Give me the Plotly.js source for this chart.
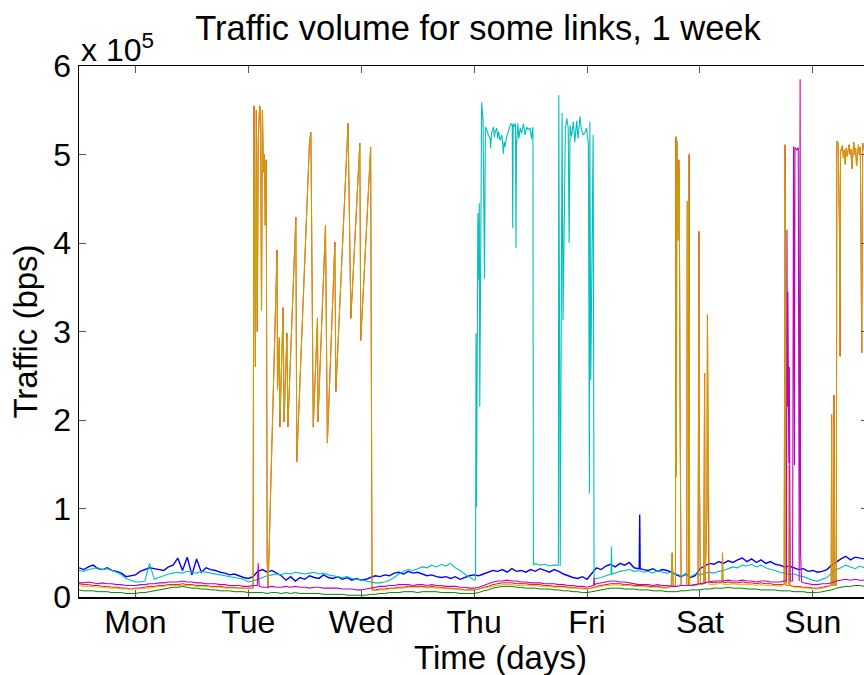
<!DOCTYPE html>
<html>
<head>
<meta charset="utf-8">
<script src="https://cdn.plot.ly/plotly-3.0.1.min.js"></script>
<style>html,body{margin:0;padding:0;background:#fff;}#chart{width:864px;height:675px;}</style>
</head>
<body>
<div id="chart"></div>
<script>
// ---- sample times (hours since Monday 00:00), one sample per hour ----
const HOURS = [...Array(168).keys()];
const dayTickHours = [12, 36, 60, 84, 108, 132, 156];
const dayTickLabels = ['Mon', 'Tue', 'Wed', 'Thu', 'Fri', 'Sat', 'Sun'];
const yTickValues = [0, 100000, 200000, 300000, 400000, 500000, 600000];
const yTickLabels = ['0', '1', '2', '3', '4', '5', '6'];

// ---- hourly baseline traffic per link (kbps); null = hidden under a burst ----
const blueKbps = [
  33,31,34,36,32,31,33,30,29,27,23,24,25,29,31,33,32,31,30,34,36,44,30,45,
  25,43,28,33,31,30,28,27,25,26,24,22,21,23,29,31,28,30,27,24,19,23,18,22,
  20,24,22,21,25,22,21,23,20,22,19,21,19,20,22,24,23,25,24,27,28,26,29,27,
  28,26,24,25,23,22,23,21,23,20,22,24,25,24,26,28,30,29,31,28,32,29,30,28,
  31,29,32,30,28,31,29,26,24,22,21,23,20,27,33,31,35,37,34,38,36,39,33,32,
  31,30,32,29,31,30,28,25,23,26,22,24,32,35,38,37,40,38,41,39,42,44,40,43,
  39,42,38,40,37,36,34,35,33,31,32,29,30,28,29,31,36,40,43,46,42,45,44,43];
const cyanKbps = [
  30,29,31,32,33,31,32,30,28,25,21,19,17,17,18,38,20,22,24,26,27,28,27,29,
  28,27,29,28,27,26,25,24,23,22,21,20,17,18,20,22,24,25,26,25,27,26,28,27,
  26,27,28,26,27,25,24,23,22,23,21,20,19,18,17,16,16,17,19,22,26,29,31,30,
  32,34,33,36,34,37,35,38,33,30,26,22,19,null,null,null,null,null,null,null,null,null,null,null,
  null,38,36,37,35,36,null,null,null,null,null,null,null,null,21,22,24,26,27,29,30,31,29,30,
  28,29,27,30,28,27,28,26,24,25,23,26,25,27,28,27,29,30,32,34,33,36,35,37,
  34,36,33,31,30,28,27,25,26,24,23,21,19,18,20,22,27,31,33,36,34,32,35,33];
const greenKbps = [
  8,7,7,7,6,6,6,5,5,5,4,4,4,5,5,6,7,8,9,10,11,11,12,11,
  10,10,9,9,8,8,7,7,7,6,6,6,5,5,5,5,4,5,5,4,5,4,5,4,
  4,4,4,4,3,3,3,3,3,2,2,2,2,2,3,3,4,4,5,5,5,6,6,6,
  5,6,6,6,6,5,5,5,5,4,4,4,4,5,7,8,10,11,12,12,12,11,11,10,
  10,10,9,9,9,8,8,7,7,6,6,5,5,6,7,8,9,10,10,10,9,9,9,8,
  8,8,7,7,7,6,6,6,7,7,8,8,8,9,9,10,10,10,11,10,10,10,9,9,
  9,8,8,8,8,7,7,7,6,6,6,5,5,5,6,7,8,10,11,12,12,13,13,12];
const redKbps = [
  15,14,14,13,13,12,12,11,11,10,10,9,10,10,11,12,12,13,13,14,14,14,15,14,
  14,13,13,13,12,12,12,11,11,11,10,10,10,null,null,null,null,null,null,null,null,null,null,null,
  null,null,null,null,null,null,null,null,null,null,null,null,null,null,null,8,9,9,10,10,11,11,12,12,
  12,12,11,12,11,11,10,10,9,9,8,8,8,9,11,12,14,15,16,16,16,15,15,15,
  14,14,14,13,13,12,12,12,11,11,10,10,9,10,12,13,14,15,15,15,14,14,13,13,
  13,12,12,12,11,11,null,null,null,null,null,null,null,null,17,16,17,16,17,16,16,17,16,16,
  15,16,15,15,14,14,null,13,12,12,11,11,10,10,11,12,null,null,null,null,null,null,null,null];
const oliveKbps = [
  13,12,12,12,11,11,10,10,10,9,9,9,9,9,10,10,11,12,12,13,13,13,13,13,
  13,12,12,12,11,11,11,10,10,10,10,10,9,null,null,null,null,null,null,null,null,null,null,null,
  null,null,null,null,null,null,null,null,null,null,null,null,null,null,null,7,8,8,9,9,10,10,11,11,
  11,11,10,11,10,10,9,9,9,8,8,8,8,9,10,11,12,13,14,14,14,13,13,13,
  13,13,12,12,12,11,11,11,10,10,10,9,9,10,11,12,13,13,14,13,13,13,12,12,
  12,11,11,11,10,10,null,null,null,null,null,null,null,null,14,14,15,14,14,15,14,14,14,14,
  13,14,13,13,13,12,null,12,11,11,10,10,9,9,10,11,null,null,null,null,null,null,null,null];
const magentaKbps = [
  16,16,17,16,15,16,15,15,14,14,13,13,13,14,14,15,15,16,16,17,17,17,18,17,
  17,16,16,15,15,15,14,14,13,13,13,12,12,13,12,11,11,12,11,11,12,11,12,11,
  11,10,11,11,10,10,10,10,9,9,9,8,8,9,10,11,12,12,13,13,14,14,14,13,
  14,14,13,14,13,13,12,12,12,11,11,10,10,11,13,15,17,18,18,19,18,18,17,17,
  16,16,16,15,15,15,14,14,13,13,12,12,11,13,15,16,17,18,18,17,17,16,15,14,
  14,14,13,14,13,13,12,12,13,13,13,14,15,16,17,18,18,18,19,18,18,19,18,18,
  17,18,18,17,17,17,18,null,null,null,16,15,14,14,15,15,16,18,19,20,19,20,19,19];

// ---- bursts read at finer time resolution (hours, kbps) ----
// red and olive links carry the same bursts
const burstTueH = [37.0,37.2,37.5,37.7,37.9,38.1,38.4,38.6,38.8,39.0,39.2,39.4,39.6,39.8,40.0,40.2,42.1,42.2,42.6,42.7,43.4,43.6,44.2,44.4,46.1,46.3,49.0,49.3,49.6,49.8,50.7,50.8,52.4,52.8,54.4,54.6,57.2,57.8,59.7,59.9,62.0,62.3];
const burstTueV = [10,555,260,550,300,516,555,552,324,550,480,500,420,494,42,10,392,234,293,192,327,198,298,192,429,153,514,525,313,192,315,198,420,174,401,232,535,315,513,290,508,8];
const burstSatH = [125.9,126.1,126.3,126.8,126.9,127.0,127.1,127.3,127.5,127.6,127.8,128.0,129.2,129.3,129.5,129.6,129.7,129.8,131.6,131.7,131.8,131.9,132.0,132.1,132.8,132.9,133.0,133.1,133.5,133.6,133.8,133.9];
const burstSatV = [12,50,12,12,520,136,515,403,494,480,192,13,13,447,447,13,500,13,14,413,413,136,84,14,15,253,253,15,100,319,143,16];
const blipSatH = [136.7,136.8,136.9];
const blipSatV = [16,50,16];
const burstSun1H = [149.9,150.1,150.2,150.3,150.9,151.0,151.1];
const burstSun1V = [14,511,400,13,13,149,13];
const burstSun2H = [159.9,160.0,160.1,160.4,160.5,160.6,160.7,161.0,161.1,161.4,161.7,161.8,161.9,162.1,162.3,162.5,162.7,162.9,163.1,163.3,163.5,163.7,163.9,164.1,164.3,164.5,164.7,164.9,165.1,165.3,165.5,165.7,165.9,166.1,166.4,166.6,166.9];
const burstSun2V = [13,206,13,13,228,117,13,13,515,513,400,272,503,508,510,496,505,489,507,498,503,511,500,506,484,503,514,500,507,487,506,511,500,508,276,513,505];
// cyan link bursts
const cyanThuH = [84.3,84.4,84.5,84.8,85.0,85.1,85.2,85.4,85.6,85.9,86.2,86.4,86.7,87.0,87.4,87.5,87.7,88.1,88.3,88.5,88.8,89.0,89.2,89.5,89.9,90.1,90.2,90.4,90.6,90.9,91.3,91.6,91.8,92.1,92.2,92.3,92.6,92.8,92.9,93.0,93.3,93.5,93.8,94.1,94.5,94.8,95.2,95.5,95.9,96.2,96.5,96.6];
const cyanThuV = [20,298,102,434,358,445,215,440,559,539,360,531,528,522,518,507,524,531,520,526,530,518,526,516,522,509,501,514,509,520,528,531,535,533,417,535,531,535,394,509,535,518,530,524,535,522,531,528,530,518,531,36];
const cyanFriH = [101.9,102.0,102.3,102.7,102.9,103.1,103.4,103.7,104.0,104.2,104.4,104.7,105.1,105.4,105.8,106.1,106.5,106.8,107.2,107.6,107.9,108.3,108.5,108.6,108.8,109.3,109.5];
const cyanFriV = [36,567,35,547,313,381,530,541,530,400,533,520,537,514,538,518,543,528,522,525,530,511,117,537,245,522,20];
const cyanBlipH = [113.1,113.2,113.3];
const cyanBlipV = [26,57,26];
// blue and magenta bursts
const blueBlipH = [119.1,119.2,119.3];
const blueBlipV = [33,93,32];
const magentaTueH = [37.9,38.1,38.3];
const magentaTueV = [13,38,12];
const magentaFriH = [109.4,109.5,109.6];
const magentaFriV = [13,22,14];
const magentaSunH = [150.4,150.5,150.6,150.7,150.9,151.0,151.2,151.7,151.9,152.1,152.2,152.6,152.9,153.1,153.3,153.4,153.6];
const magentaSunV = [18,415,215,345,151,260,18,18,509,149,508,505,508,18,585,50,17];

// ---- checks ----
[blueKbps, cyanKbps, greenKbps, redKbps, oliveKbps, magentaKbps].forEach((a, i) => {
  if (a.length !== HOURS.length) throw new Error('baseline ' + i + ' has ' + a.length + ' values');
});
[[burstTueH,burstTueV],[burstSatH,burstSatV],[burstSun1H,burstSun1V],[burstSun2H,burstSun2V],
 [cyanThuH,cyanThuV],[cyanFriH,cyanFriV],[magentaSunH,magentaSunV]].forEach((p, i) => {
  if (p[0].length !== p[1].length) throw new Error('burst ' + i + ' length mismatch');
});

// merge hourly baseline with bursts (baseline samples inside a burst window are dropped)
function series(base, bursts) {
  const pts = [];
  HOURS.forEach((h, i) => {
    const v = base[i];
    if (v === null) return;
    if (bursts.some(b => h >= b[0][0] && h <= b[0][b[0].length - 1])) return;
    pts.push([h, v]);
  });
  bursts.forEach(b => b[0].forEach((h, i) => pts.push([h, b[1][i]])));
  pts.sort((a, b) => a[0] - b[0]);
  return { x: pts.map(p => p[0]), y: pts.map(p => p[1] * 1000) };
}

const sharedBursts = [[burstTueH, burstTueV], [burstSatH, burstSatV], [blipSatH, blipSatV],
                      [burstSun1H, burstSun1V], [burstSun2H, burstSun2V]];
const blue = series(blueKbps, [[blueBlipH, blueBlipV]]);
const cyan = series(cyanKbps, [[cyanThuH, cyanThuV], [cyanFriH, cyanFriV], [cyanBlipH, cyanBlipV]]);
const green = series(greenKbps, []);
const red = series(redKbps, sharedBursts);
const olive = series(oliveKbps, sharedBursts);
const magenta = series(magentaKbps, [[magentaTueH, magentaTueV], [magentaFriH, magentaFriV], [magentaSunH, magentaSunV]]);

function line(s, color, width, extra) {
  return Object.assign({ x: s.x, y: s.y, type: 'scatter', mode: 'lines',
    line: { color: color, width: width }, hoverinfo: 'x+y', showlegend: false }, extra || {});
}

const FONT = 'Liberation Sans, Arial, Helvetica, sans-serif';
const data = [
  line(blue, '#0000ff', 1.4),
  line(cyan, '#00bfbf', 1.1),
  line(green, '#008000', 1, { yaxis: 'y2' }),
  line(red, '#ff0000', 1),
  line(olive, '#bfbf00', 1.1, { opacity: 0.8 }),
  line(magenta, '#bf00bf', 1.1)
];

const layout = {
  width: 864, height: 675,
  margin: { l: 79, r: 0, t: 66, b: 78, pad: 0 },
  paper_bgcolor: '#ffffff', plot_bgcolor: '#ffffff',
  font: { family: FONT, size: 32, color: '#000000' },
  title: { text: 'Traffic volume for some links, 1 week', font: { family: FONT, size: 34.5, color: '#000' },
           x: 478 / 864, xref: 'container', xanchor: 'center', y: 1 - 28 / 675, yref: 'container', yanchor: 'middle' },
  xaxis: {
    range: [0, 166.88], autorange: false, showgrid: false, zeroline: false,
    tickmode: 'array', tickvals: dayTickHours, ticktext: dayTickLabels,
    ticks: 'inside', ticklen: 7, tickwidth: 1, tickcolor: '#555',
    showline: true, linecolor: '#000', linewidth: 1.5, mirror: 'ticks',
    tickfont: { family: FONT, size: 32, color: '#000' }, ticklabelstandoff: -4
  },
  yaxis: {
    range: [0, 600000], autorange: false, showgrid: false, zeroline: false,
    tickmode: 'array', tickvals: yTickValues, ticktext: yTickLabels,
    ticks: 'inside', ticklen: 7, tickwidth: 1, tickcolor: '#555',
    showline: true, linecolor: '#000', linewidth: 1.5, mirror: false,
    tickfont: { family: FONT, size: 32, color: '#000' },
    title: { text: 'Traffic (bps)', font: { family: FONT, size: 33, color: '#000' }, standoff: 6 }
  },
  yaxis2: {
    overlaying: 'y', side: 'right', range: [0, 600000], autorange: false,
    showgrid: false, zeroline: false, showline: false, showticklabels: false,
    tickmode: 'array', tickvals: yTickValues,
    ticks: 'inside', ticklen: 3, tickwidth: 1, tickcolor: '#555'
  },
  annotations: [
    { // x-axis title, placed where the reference centres it
      text: 'Time (days)', xref: 'paper', yref: 'paper',
      x: (500 - 79) / 785, y: -(657 - 597) / 531, xanchor: 'center', yanchor: 'middle',
      showarrow: false, font: { family: FONT, size: 33, color: '#000' }
    },
    { // exponent of the y axis
      text: 'x 10<sup>5</sup>', xref: 'paper', yref: 'paper', x: 0, y: 1,
      xanchor: 'left', yanchor: 'bottom', yshift: -4, showarrow: false,
      font: { family: FONT, size: 32, color: '#000' }
    }
  ]
};

Plotly.newPlot('chart', data, layout, { displayModeBar: false, staticPlot: true });
</script>
</body>
</html>
